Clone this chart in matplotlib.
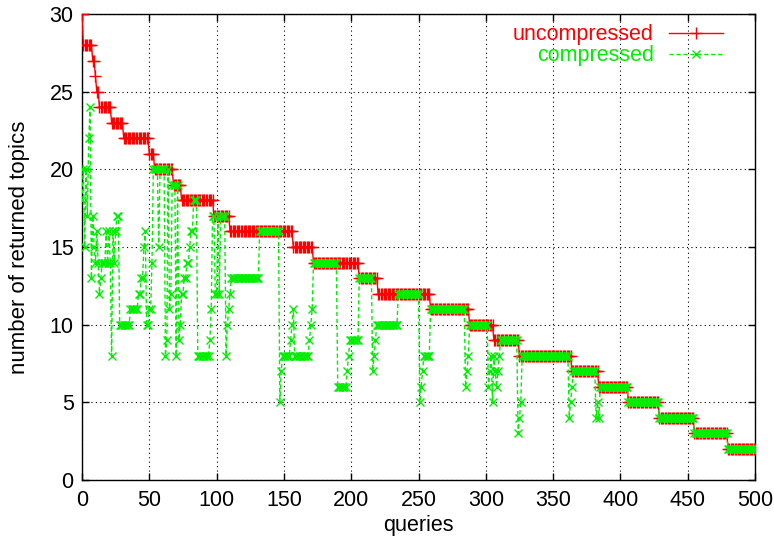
import numpy as np
import matplotlib
matplotlib.use("Agg")
import matplotlib.pyplot as plt

# Uncompressed: run-length (value, count), queries 0..500
unc_values = [30, 28, 27, 26, 25, 24, 23, 22, 21, 20, 19, 18, 17, 16, 15, 14,
              13, 12, 11, 10, 9, 8, 7, 6, 5, 4, 3, 2]
unc_counts = [1, 7, 2, 1, 2, 9, 9, 19, 4, 14, 6, 24, 12, 47, 15, 34,
              14, 39, 29, 18, 19, 39, 20, 22, 23, 26, 25, 21]

# Compressed: run-length (value, count)
comp_values = [18, 20, 15, 20, 17, 22, 24, 13, 17, 15, 14, 16, 14, 12, 13, 14,
               16, 14, 16, 14, 8, 16, 14, 16, 17,
               10, 11, 12, 13, 15, 16, 10, 11, 14, 20, 15, 20, 8, 9, 20, 11, 12,
               19, 8, 19, 9, 10, 12, 13, 14, 15, 16, 18, 8, 9, 11, 17, 12, 17,
               12, 17, 8, 10, 11, 12, 13, 16, 5, 7, 8, 9, 10, 11, 8, 9, 10, 11,
               14, 6, 7, 8, 9, 13, 7, 8, 9, 10, 12, 5, 6, 7, 8, 11, 6, 7, 8, 10,
               6, 7, 8, 5, 8, 7, 6, 7, 8, 9, 3, 4, 5, 8, 4, 5, 6, 7, 4, 5, 4,
               6, 5, 4, 3, 2]
comp_counts = [1, 1, 1, 1, 1, 1, 1, 1, 1, 1, 1, 1, 1, 1, 1, 3,
               1, 1, 1, 1, 1, 1, 1, 1, 2,
               8, 6, 2, 2, 1, 1, 2, 2, 1, 4, 1, 4, 1, 1, 1, 1, 1,
               3, 1, 1, 1, 1, 2, 2, 2, 1, 2, 3, 9, 1, 1, 2, 2, 1,
               1, 4, 1, 1, 1, 1, 21, 15, 1, 1, 6, 1, 1, 1, 11, 1, 1, 1,
               18, 7, 1, 1, 7, 10, 1, 1, 1, 16, 16, 1, 1, 1, 5, 26, 1, 1, 1, 14,
               1, 1, 1, 1, 1, 1, 1, 1, 1, 13, 1, 1, 1, 35, 1, 1, 1, 17, 1, 1, 1,
               21, 23, 26, 25, 21]

x_ticks = list(range(0, 501, 50))
y_ticks = list(range(0, 31, 5))

unc = np.repeat(unc_values, unc_counts)
comp = np.repeat(comp_values, comp_counts)
q_unc = np.arange(len(unc))
q_comp = np.arange(len(comp))

plt.rcParams['font.family'] = ['Liberation Sans', 'DejaVu Sans']
fig = plt.figure(figsize=(7.74, 5.47), dpi=100)
ax = fig.add_axes([82/774, 1-480/547, (755-82)/774, (480-14)/547])

red = '#ff0000'
green = '#00ee00'
ax.plot(q_unc, unc, color=red, lw=1.0, marker='+', ms=8, mew=1.0,
        label='uncompressed', zorder=3)
ax.plot(q_comp, comp, color=green, lw=1.0, ls=(0, (3, 2)), marker='x', ms=5.5,
        mew=1.0, label='compressed', zorder=4)

ax.set_xlim(0, 500)
ax.set_ylim(0, 30)
ax.set_xticks(x_ticks)
ax.set_yticks(y_ticks)
ax.tick_params(axis='x', pad=7)
ax.tick_params(axis='y', pad=6)
ax.tick_params(direction='in', top=True, right=True, length=5, width=1,
               labelsize=15.5)
ax.grid(True, color='black', ls=(0, (1, 3)), lw=0.8)
for s in ax.spines.values():
    s.set_linewidth(1.0)
ax.set_xlabel('queries', fontsize=15.5, labelpad=3)
ax.set_ylabel('number of returned topics', fontsize=16, labelpad=14)

leg = ax.legend(loc='upper right', markerfirst=False, frameon=False,
                labelcolor='linecolor', fontsize=15.5, handlelength=2.5,
                borderaxespad=0.0, handletextpad=0.7, labelspacing=0.0,
                borderpad=0.3,
                bbox_to_anchor=(729/774, 1-18/547),
                bbox_transform=fig.transFigure)
fig.savefig('out.png', dpi=100)
